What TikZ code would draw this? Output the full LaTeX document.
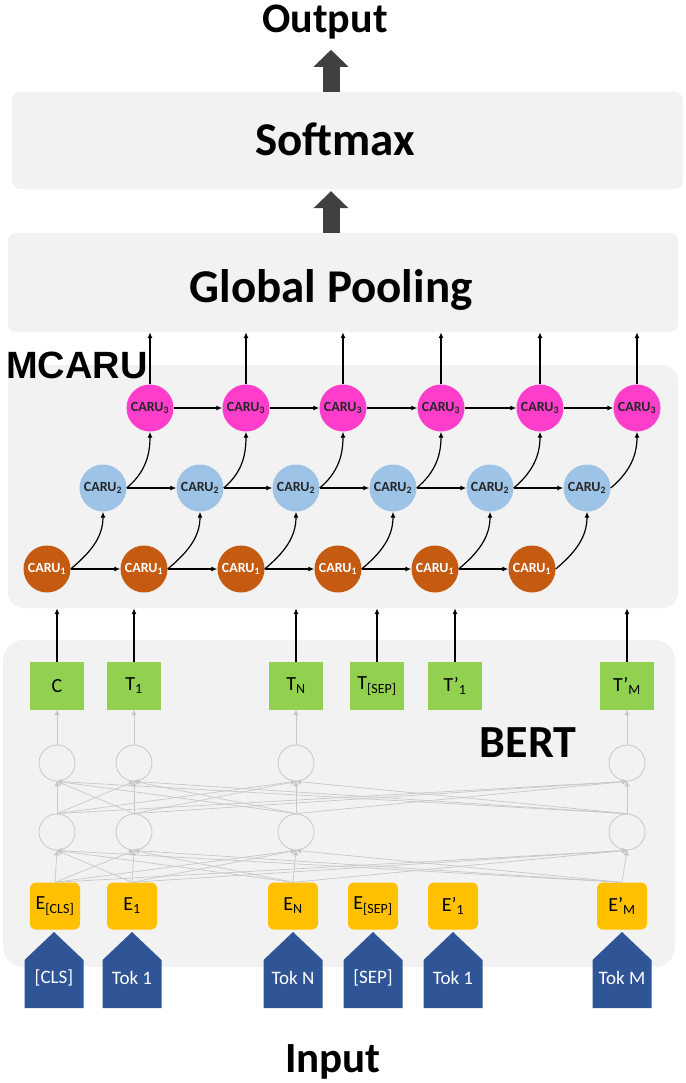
\documentclass[tikz,border=0pt]{standalone}
\usepackage{fontspec}
\setmainfont{Carlito}
\newfontfamily\arialfont{Liberation Sans}
\usetikzlibrary{arrows.meta,positioning}
\definecolor{panelgray}{HTML}{F2F2F2}
\definecolor{caruone}{HTML}{C55A11}
\definecolor{carutwo}{HTML}{9DC3E6}
\definecolor{caruthree}{HTML}{FF3DCB}
\definecolor{tokgreen}{HTML}{92D050}
\definecolor{embyellow}{HTML}{FFC000}
\definecolor{tokblue}{HTML}{2F5597}
\definecolor{arrowgray}{HTML}{404040}
\definecolor{netgray}{HTML}{C8C8C8}
\newcommand{\caru}[1]{CARU\textsubscript{#1}}

\begin{document}
\begin{tikzpicture}[x=1pt, y=1pt,
	panel/.style = {fill=panelgray, inner sep=0pt},
	big/.style = {inner sep=0pt, anchor=base},
	block/.style = {arrowgray, line width=17pt, -{Triangle[width=34pt,length=17pt]}},
	caru/.style = {circle, inner sep=0pt, minimum size=47pt, font=\fontsize{14}{14}\selectfont\bfseries},
	link/.style = {black, line width=1.2pt, -{Latex[length=6pt,width=5pt]}},
	tok/.style = {fill=tokgreen, minimum width=54pt, minimum height=48pt, inner sep=0pt, font=\fontsize{20}{20}\selectfont},
	emb/.style = {fill=embyellow, rounded corners=6pt, minimum width=50pt, minimum height=47pt, inner sep=0pt, font=\fontsize{20}{20}\selectfont},
	cell/.style = {circle, draw=netgray, line width=0.8pt, minimum size=36pt, inner sep=0pt},
	net/.style = {netgray, line width=0.7pt, -{Triangle[length=5pt,width=5pt]}},
	word/.style = {text=white, font=\fontsize{19}{19}\selectfont}]

	\useasboundingbox (0,0) rectangle (685,-1083);

	\node[panel, rounded corners=8pt, minimum width=671pt, minimum height=97pt] (soft) at (347.5,-140.5) {};
	\node[panel, rounded corners=8pt, minimum width=670pt, minimum height=99pt] (pool) at (343,-282.5) {};
	\node[panel, rounded corners=16pt, minimum width=670pt, minimum height=243pt] (mcaru) at (343,-486.5) {};
	\node[panel, rounded corners=20pt, minimum width=672pt, minimum height=327pt] (bert) at (339,-803.5) {};

	\node[big, font=\fontsize{42}{46}\selectfont\bfseries] (output) at (325,-33) {Output};
	\node[big, font=\fontsize{47}{52}\selectfont\bfseries] (softtxt) at (335,-156) {Softmax};
	\node[big, font=\fontsize{47}{52}\selectfont\bfseries] (pooltxt) at (331,-302) {Global Pooling};
	\node[anchor=base west, inner sep=0pt, font=\arialfont\fontsize{38}{42}\selectfont\bfseries] (mcarutxt) at (6,-378) {MCARU};
	\node[big, font=\fontsize{46}{50}\selectfont\bfseries] (berttxt) at (528,-757) {BERT};
	\node[big, font=\fontsize{43}{48}\selectfont\bfseries] (input) at (333,-1072) {Input};

	\coordinate (spine) at (331,0);
	\draw[block, shorten >=10pt] (spine |- soft.north) -- (spine |- output.south);
	\draw[block, shorten >=2pt] (spine |- pool.north) -- (spine |- soft.south);

	\foreach \x [count=\i] in {47,144,241,338,435,532}
		\node[caru, fill=caruone, text=white] (a\i) at (\x,-569) {\caru{1}};
	\foreach \x [count=\i] in {103,200,296,393,490,587}
		\node[caru, fill=carutwo, text=black!85] (b\i) at (\x,-488) {\caru{2}};
	\foreach \x [count=\i] in {150,246,343,441,540,637}
		\node[caru, fill=caruthree, text=black!85] (c\i) at (\x,-408) {\caru{3}};

	\foreach \i [evaluate=\i as \j using int(\i+1)] in {1,...,5} {
		\draw[link] (a\i) -- (a\j);
		\draw[link] (b\i) -- (b\j);
		\draw[link] (c\i) -- (c\j);
	}
	\foreach \i in {1,...,6} {
		\draw[link] (a\i.east) to[out=40,in=-90] (b\i.south);
		\draw[link] (b\i.east) to[out=40,in=-90] (c\i.south);
		\draw[link] (c\i.north) -- (c\i.north |- pool.south);
	}

	\foreach \x/\t [count=\i] in {57/C, 134/{T\textsubscript{1}}, 296/{T\textsubscript{N}}, 377/{T\textsubscript{[SEP]}}, 455/{T’\textsubscript{1}}, 627/{T’\textsubscript{M}}} {
		\node[tok] (g\i) at (\x,-686) {\t};
		\draw[link] (g\i.north) -- (g\i.north |- mcaru.south);
	}

	\foreach \x/\t [count=\i] in {55/{E\textsubscript{[CLS]}}, 132/{E\textsubscript{1}}, 293/{E\textsubscript{N}}, 373/{E\textsubscript{[SEP]}}, 453/{E’\textsubscript{1}}, 622/{E’\textsubscript{M}}}
		\node[emb] (e\i) at (\x,-906) {\t};

	\foreach \x/\t [count=\i] in {54/{[CLS]}, 132/{Tok 1}, 293/{Tok N}, 373/{[SEP]}, 453/{Tok 1}, 622/{Tok M}} {
		\fill[tokblue] (\x-29.5,-1008) -- ++(59,0) -- ++(0,48) -- (\x,-932) -- (\x-29.5,-960) -- cycle;
		\node[word] (w\i) at (\x,-978) {\t};
	}

	\foreach \x/\i in {57/1, 134/2, 296/3, 627/6} {
		\node[cell] (u\i) at (\x,-763) {};
		\node[cell] (l\i) at (\x,-832) {};
		\draw[net] (u\i) -- (g\i);
	}
	\foreach \i in {1,2,3,6}
		\foreach \j in {1,2,3,6} {
			\draw[net] (l\i.north) -- (u\j.south);
			\draw[net] (e\i.north) -- (l\j.south);
		}
\end{tikzpicture}
\end{document}
